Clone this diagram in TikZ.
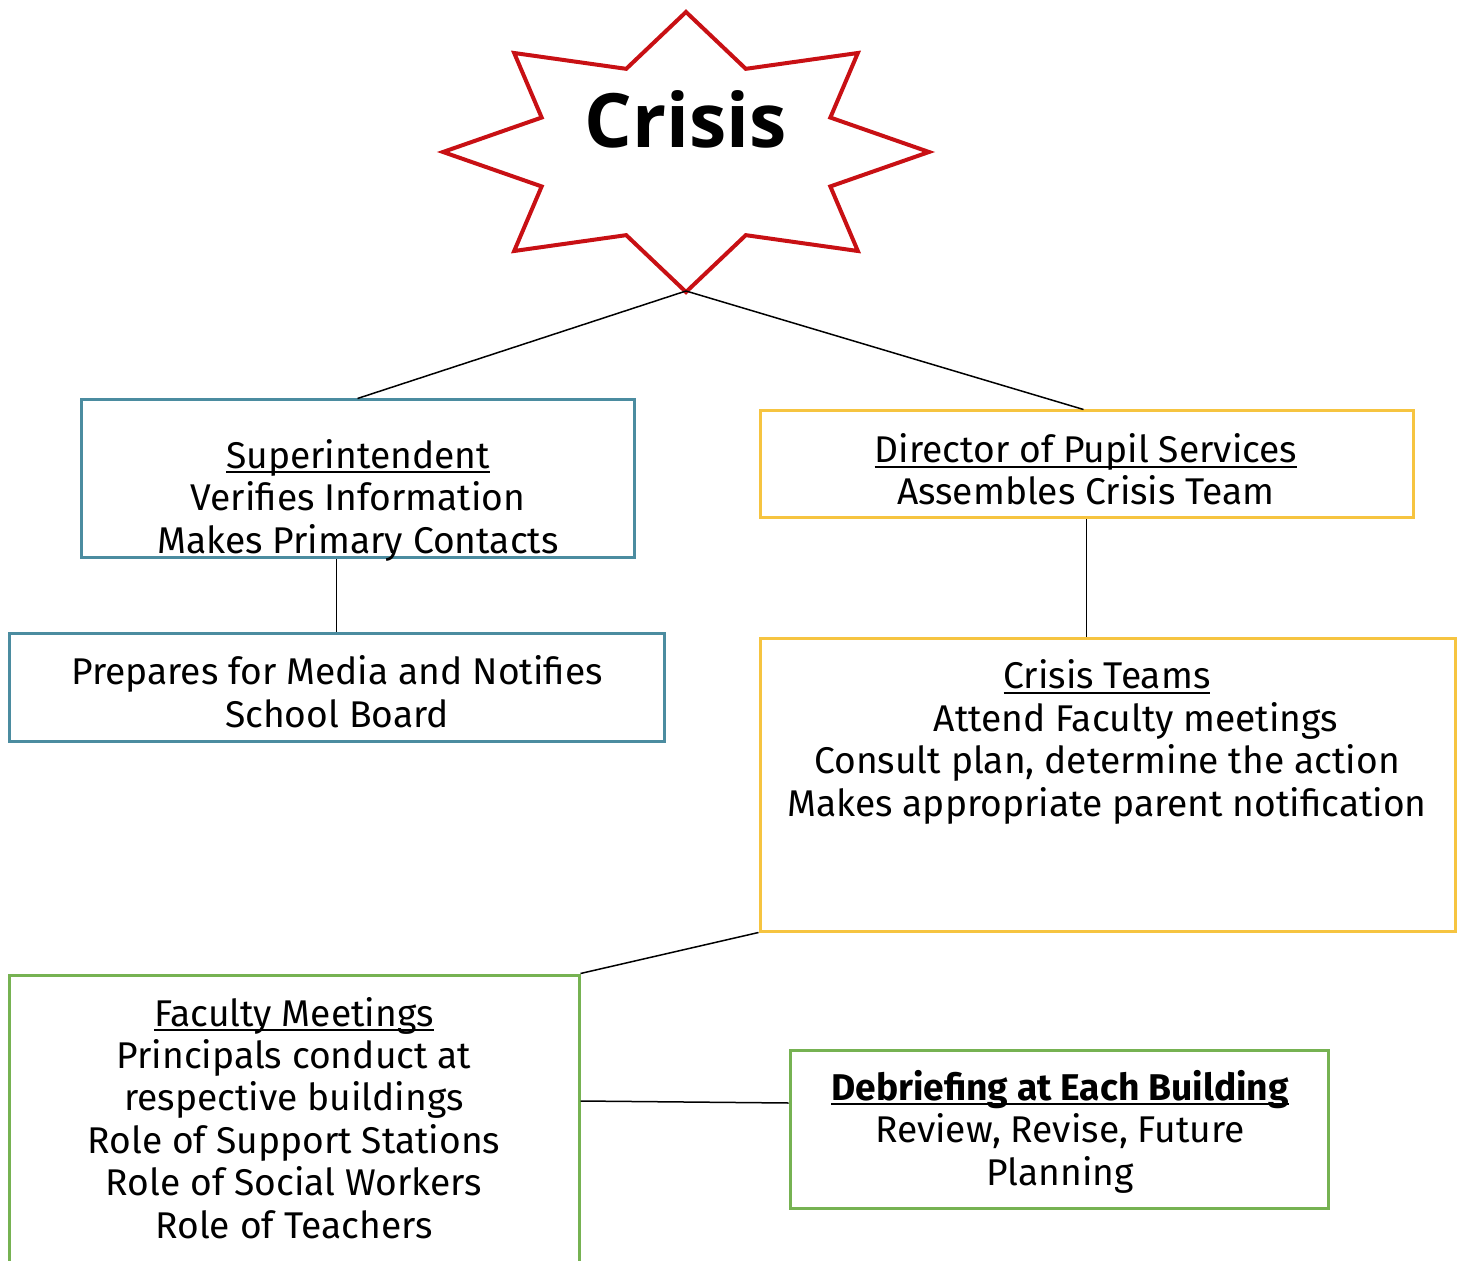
\documentclass[tikz,border=0pt]{standalone}
\usepackage{fontspec}
\setmainfont{Fira Sans}
\newfontfamily\headfont{Open Sans}
\definecolor{crisisred}{RGB}{200,16,20}
\definecolor{suptblue}{RGB}{75,140,160}
\definecolor{teamgold}{RGB}{246,196,64}
\definecolor{meetgreen}{RGB}{118,178,82}
\newcommand{\headul}[1]{\setbox0\hbox{#1}\rlap{\rule[-2.6pt]{\wd0}{1pt}}\box0}
\tikzset{
  box/.style={draw,line width=1.5pt,inner sep=0pt},
  suptbox/.style={box,draw=suptblue},
  teambox/.style={box,draw=teamgold},
  meetbox/.style={box,draw=meetgreen},
  boxtext/.style={align=center,inner sep=0pt,anchor=base,font=\fontsize{18.6}{21.2}\selectfont},
  link/.style={line width=0.75pt},
  starline/.style={draw=crisisred,line width=2pt,line join=miter,fill=white},
}

\begin{document}
\begin{tikzpicture}[x=0.5pt,y=-0.5pt]
\useasboundingbox (0,0) rectangle (1461,1261);
\draw[starline,shift={(686,152)}] (90:243 and 140)
  \foreach \i in {1,...,15}{ -- ({90+22.5*\i}:{243*(1-0.357*mod(\i,2))} and {140*(1-0.357*mod(\i,2))}) } -- cycle;
\node[inner sep=0pt,anchor=base,font=\headfont\bfseries\fontsize{37.5}{40}\selectfont] (crisis) at (686,148) {Crisis};
\coordinate (crisisbot) at (686,291);

\node[suptbox,minimum width=276.5pt,minimum height=79pt] (supt) at (357.5,479) {};
\node[suptbox,minimum width=327.5pt,minimum height=54pt] (media) at (336.5,687) {};
\node[teambox,minimum width=326.5pt,minimum height=53.5pt] (dps) at (1086.5,464.5) {};
\node[teambox,minimum width=347.5pt,minimum height=146.5pt] (teams) at (1107.5,784.5) {};
\node[meetbox,minimum width=285pt,minimum height=155pt] (faculty) at (294,1130) {};
\node[meetbox,minimum width=269pt,minimum height=79pt] (debrief) at (1059,1129) {};

\node[boxtext] (supttxt) at (358,553) {\headul{Superintendent}\\Verifies Information\\Makes Primary Contacts};
\node[boxtext] (mediatxt) at (337,727) {Prepares for Media and Notifies\\School Board};
\node[boxtext] (dpstxt) at (1086,505) {\headul{Director of Pupil Services}\\Assembles Crisis Team};
\node[boxtext] (teamstxt) at (1107,816) {\headul{Crisis Teams}\\\hspace*{29pt}Attend Faculty meetings\\Consult plan, determine the action\\Makes appropriate parent notification};
\node[boxtext] (facultytxt) at (294,1238) {\headul{Faculty Meetings}\\Principals conduct at\\respective buildings\\Role of Support Stations\\Role of Social Workers\\Role of Teachers};
\node[boxtext] (debrieftxt) at (1060,1185) {\headul{\bfseries Debriefing at Each Building}\\Review, Revise, Future\\Planning};

\draw[link] (crisisbot) -- (supt.north);
\draw[link] (crisisbot) -- ([xshift=-1.5pt]dps.north);
\draw[link] (supt.south -| media.north) -- (media.north);
\draw[link] (dps.south) -- (dps.south |- teams.north);
\draw[link] (teams.south west) -- (faculty.north east);
\draw[link] ([yshift=14.5pt]faculty.east) -- ([yshift=13pt]debrief.west);
\end{tikzpicture}
\end{document}
